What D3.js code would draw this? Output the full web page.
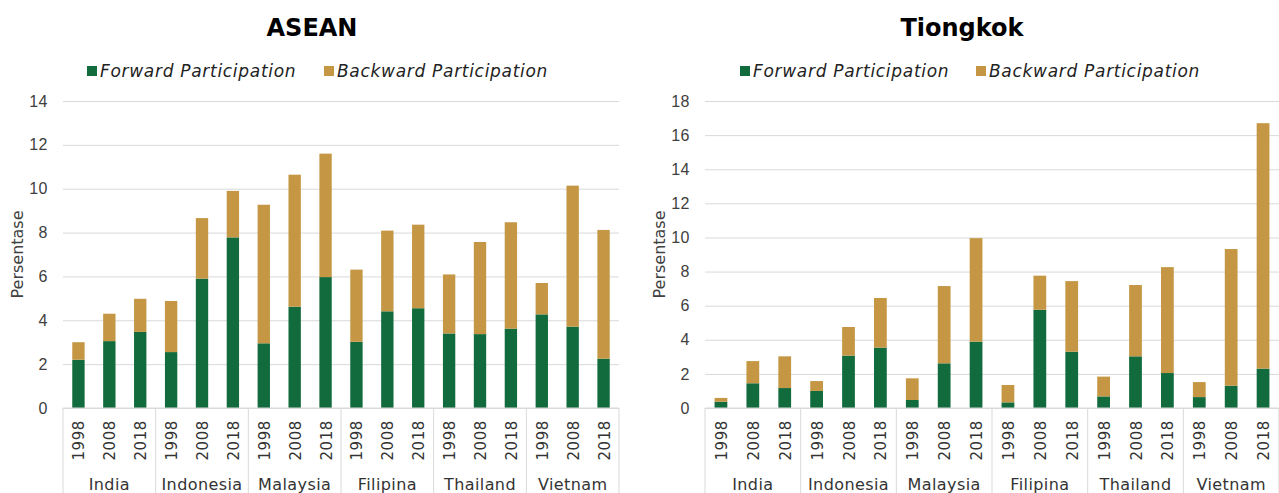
<!DOCTYPE html>
<html>
<head>
<meta charset="utf-8">
<script src="https://cdn.jsdelivr.net/npm/d3@7"></script>
<style>
   body { margin: 0; background: #fff; }
   svg { display: block; font-family: "DejaVu Sans", sans-serif; }
</style>
</head>
<body>
<div id="content"></div>
<script>
const countries = ["India", "Indonesia", "Malaysia", "Filipina", "Thailand", "Vietnam"]
const years = ["1998", "2008", "2018"]
const seriesNames = ["Forward Participation", "Backward Participation"]

const aseanForward = [2.2, 3.05, 3.47, 2.55, 5.9, 7.78, 2.95, 4.62, 5.97, 3.02, 4.41, 4.55, 3.4, 3.37, 3.62, 4.27, 3.71, 2.25]
const aseanBackward = [0.8, 1.25, 1.51, 2.33, 2.76, 2.12, 6.32, 6.02, 5.63, 3.29, 3.68, 3.81, 2.69, 4.2, 4.85, 1.43, 6.43, 5.87]
const aseanTicks = [0, 2, 4, 6, 8, 10, 12, 14]

const chinaForward = [0.37, 1.45, 1.17, 1.0, 3.07, 3.54, 0.47, 2.62, 3.89, 0.33, 5.76, 3.3, 0.68, 3.03, 2.05, 0.64, 1.31, 2.31]
const chinaBackward = [0.22, 1.3, 1.86, 0.58, 1.68, 2.91, 1.27, 4.53, 6.07, 1.02, 2.0, 4.14, 1.16, 4.18, 6.21, 0.88, 8.01, 14.39]
const chinaTicks = [0, 2, 4, 6, 8, 10, 12, 14, 16, 18]

const colors = ["#126b3c", "#c59745"]
const width = 1279
const height = 493

const svg = d3.select("#content").append("svg")
   .attr("width", width)
   .attr("height", height)

function drawPanel(opts) {
   const keys = []
   countries.forEach(c => years.forEach(y => keys.push(c + "|" + y)))
   const rows = keys.map((k, i) => ({ key: k, fwd: opts.forward[i], bwd: opts.backward[i] }))
   const stacked = d3.stack().keys(["fwd", "bwd"])(rows)

   const x = d3.scaleBand().domain(keys).range([opts.left, opts.right]).paddingInner(0.6).paddingOuter(0.3)
   const y = d3.scaleLinear().domain([0, d3.max(opts.ticks)]).range([opts.bottom, opts.top])

   const g = svg.append("g")

   // grid + tick labels
   const axis = g.append("g")
      .attr("transform", `translate(${opts.left},0)`)
      .call(d3.axisLeft(y).tickValues(opts.ticks).tickSize(-(opts.right - opts.left)).tickPadding(15))
   axis.select(".domain").remove()
   axis.selectAll("line").attr("stroke", "#d9d9d9")
   axis.selectAll("text").attr("fill", "#404040").style("font-size", "16px").style("letter-spacing", "0.5px")

   g.append("text")
      .attr("transform", `translate(${opts.left - 40},${(opts.top + opts.bottom) / 2}) rotate(-90)`)
      .attr("text-anchor", "middle")
      .attr("fill", "#404040")
      .style("font-size", "16px")
      .text("Persentase")

   g.selectAll(".layer")
      .data(stacked)
      .enter().append("g")
      .attr("fill", (d, i) => colors[i])
      .selectAll("rect")
      .data(d => d)
      .enter().append("rect")
      .attr("x", d => x(d.data.key))
      .attr("width", x.bandwidth())
      .attr("y", d => y(d[1]))
      .attr("height", d => y(d[0]) - y(d[1]))

   // baseline and group separators
   g.append("line")
      .attr("x1", opts.left).attr("x2", opts.right)
      .attr("y1", opts.bottom).attr("y2", opts.bottom)
      .attr("stroke", "#d9d9d9")
   const step = x.step()
   d3.range(countries.length + 1).forEach(i => {
      const xx = opts.left + i * step * years.length
      g.append("line")
         .attr("x1", xx).attr("x2", xx)
         .attr("y1", opts.bottom).attr("y2", height)
         .attr("stroke", "#d9d9d9")
   })

   g.selectAll(".year")
      .data(keys)
      .enter().append("text")
      .attr("transform", k => `translate(${x(k) + x.bandwidth() / 2 + 6},${opts.bottom + 12}) rotate(-90)`)
      .attr("text-anchor", "end")
      .attr("fill", "#333")
      .style("font-size", "15px")
      .style("letter-spacing", "0.6px")
      .text(k => k.split("|")[1])

   g.selectAll(".country")
      .data(countries)
      .enter().append("text")
      .attr("x", (c, i) => opts.left + (i + 0.5) * step * years.length)
      .attr("y", 490)
      .attr("text-anchor", "middle")
      .attr("fill", "#333")
      .style("font-size", "16px")
      .style("letter-spacing", "0.4px")
      .text(c => c)

   g.append("text")
      .attr("x", opts.titleX)
      .attr("y", 36)
      .attr("text-anchor", "middle")
      .style("font-size", "24px")
      .style("font-weight", "bold")
      .attr("fill", "#000")
      .text(opts.title)

   // legend
   seriesNames.forEach((name, i) => {
      const lx = opts.legendX[i]
      g.append("rect")
         .attr("x", lx).attr("y", 66)
         .attr("width", 10).attr("height", 10)
         .attr("fill", colors[i])
      g.append("text")
         .attr("x", lx + 13)
         .attr("y", 77)
         .attr("fill", "#222")
         .style("font-size", "17px")
         .style("font-style", "italic")
         .style("letter-spacing", "0.7px")
         .text(name)
   })
}

drawPanel({
   title: "ASEAN", titleX: 312,
   left: 63, right: 619, top: 101, bottom: 408,
   forward: aseanForward, backward: aseanBackward, ticks: aseanTicks,
   legendX: [87, 324]
})

drawPanel({
   title: "Tiongkok", titleX: 962,
   left: 705, right: 1279, top: 101, bottom: 408,
   forward: chinaForward, backward: chinaBackward, ticks: chinaTicks,
   legendX: [740, 976]
})
</script>
</body>
</html>
